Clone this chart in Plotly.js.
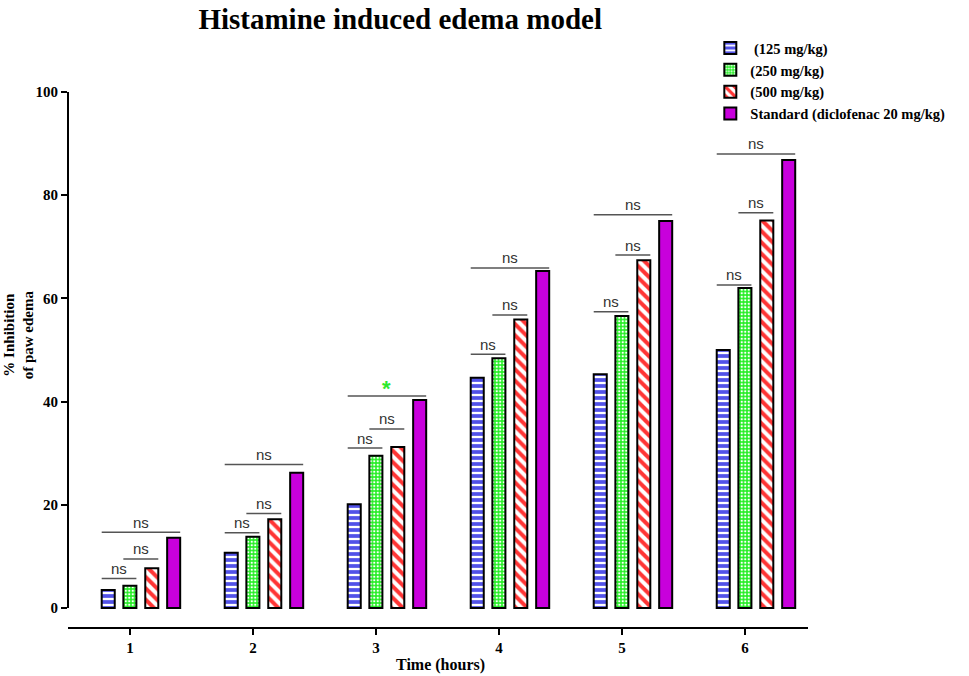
<!DOCTYPE html>
<html>
<head>
<meta charset="utf-8">
<script src="https://cdn.plot.ly/plotly-3.0.1.min.js"></script>
<style>
  html, body { margin: 0; padding: 0; background: #fff; }
  #chart { width: 969px; height: 676px; }
</style>
</head>
<body>
<div id="chart"></div>
<script>
// Values
const hours = [1, 2, 3, 4, 5, 6];
const dose125 = [3.5, 10.7, 20.1, 44.6, 45.3, 50.0];
const dose250 = [4.3, 13.8, 29.5, 48.4, 56.6, 62.0];
const dose500 = [7.7, 17.2, 31.2, 55.9, 67.4, 75.1];
const standard = [13.6, 26.2, 40.3, 65.3, 75.0, 86.8];

// significance brackets (height in % and label)
const bracket12 = [5.7, 14.6, 31.0, 49.2, 57.4, 62.6];
const bracket23 = [9.5, 18.3, 34.7, 56.8, 68.4, 76.6];
const bracket14 = [14.7, 27.8, 41.1, 65.9, 76.2, 88.0];
const sig12 = ['ns', 'ns', 'ns', 'ns', 'ns', 'ns'];
const sig23 = ['ns', 'ns', 'ns', 'ns', 'ns', 'ns'];
const sig14 = ['ns', 'ns', '*', 'ns', 'ns', 'ns'];

const seriesNames = [' (125 mg/kg)', '(250 mg/kg)', '(500 mg/kg)', 'Standard (diclofenac 20 mg/kg)'];

// bar geometry (in x units, one hour = one unit)
const barWidth = 0.106;
const offsets = [-0.230, -0.054, 0.124, 0.302];

const serif = 'Liberation Serif, Times New Roman, serif';
const sans = 'Liberation Sans, Arial, sans-serif';

const patterns = [
  { shape: '-', bgcolor: '#5252e8', fgcolor: '#ffffff', size: 6, solidity: 0.38 },
  { shape: '.', bgcolor: '#25ee25', fgcolor: '#ffffff', size: 3.5, solidity: 0.35 },
  { shape: '\\', bgcolor: '#ffffff', fgcolor: '#ff3535', size: 8, solidity: 0.5 },
  null
];
const allValues = [dose125, dose250, dose500, standard];

const data = allValues.map((vals, i) => {
  const marker = { color: '#c800dc', line: { color: '#000', width: 2 } };
  if (patterns[i]) {
    marker.color = patterns[i].bgcolor;
    marker.pattern = Object.assign({ fillmode: 'replace' }, patterns[i]);
  }
  return {
    type: 'bar',
    x: hours,
    y: vals,
    name: seriesNames[i],
    width: barWidth,
    offset: offsets[i],
    marker: marker,
    hoverinfo: 'y'
  };
});

const shapes = [
  // y axis line only spans 0..100
  { type: 'line', xref: 'paper', yref: 'y', x0: 0, x1: 0, y0: 0, y1: 100,
    line: { color: '#000', width: 2 } }
];
const annotations = [];

function addBracket(h, a, b, height, label) {
  const x0 = h + offsets[a];
  const x1 = h + offsets[b] + barWidth;
  shapes.push({ type: 'line', xref: 'x', yref: 'y', x0: x0, x1: x1, y0: height, y1: height,
    line: { color: '#555', width: 1.5 } });
  const star = label === '*';
  annotations.push({
    x: (x0 + x1) / 2, y: height, xref: 'x', yref: 'y',
    text: label, showarrow: false, yanchor: 'middle',
    yshift: star ? 7 : 10,
    font: star ? { family: sans, size: 22, color: '#2de82d', weight: 'bold' }
               : { family: sans, size: 15, color: '#333' }
  });
}

hours.forEach((h, k) => {
  addBracket(h, 0, 1, bracket12[k], sig12[k]);
  addBracket(h, 1, 2, bracket23[k], sig23[k]);
  addBracket(h, 0, 3, bracket14[k], sig14[k]);
});

// axis titles
annotations.push({
  xref: 'paper', yref: 'paper', x: -0.067, y: 0.546,
  text: '% Inhibition<br>of paw edema', textangle: -90, showarrow: false,
  xanchor: 'center', yanchor: 'middle',
  font: { family: serif, size: 15, color: '#000', weight: 'bold' }
});
annotations.push({
  xref: 'paper', yref: 'paper', x: 0.503, y: -0.071,
  text: 'Time (hours)', showarrow: false, xanchor: 'center', yanchor: 'middle',
  font: { family: serif, size: 16, color: '#000', weight: 'bold' }
});

const layout = {
  width: 969,
  height: 676,
  paper_bgcolor: '#fff',
  plot_bgcolor: '#fff',
  margin: { l: 68, r: 161, t: 92, b: 49 },
  barmode: 'overlay',
  title: {
    text: 'Histamine induced edema model',
    xref: 'container', x: 0.413, xanchor: 'center',
    yref: 'container', y: 0.972, yanchor: 'middle',
    font: { family: serif, size: 29, color: '#000', weight: 'bold' }
  },
  showlegend: true,
  legend: {
    x: 0.868, y: 1.112, xanchor: 'left', yanchor: 'top',
    bgcolor: 'rgba(0,0,0,0)',
    traceorder: 'normal',
    font: { family: serif, size: 14.5, color: '#000', weight: 'bold' }
  },
  xaxis: {
    range: [0.496, 6.512],
    tickvals: hours,
    ticktext: hours.map(String),
    showgrid: false, zeroline: false,
    showline: true, linecolor: '#000', linewidth: 2,
    ticks: 'outside', ticklen: 6, tickwidth: 2, tickcolor: '#000',
    tickfont: { family: serif, size: 15, color: '#000', weight: 'bold' }
  },
  yaxis: {
    range: [-3.68, 100],
    tickvals: [0, 20, 40, 60, 80, 100],
    showgrid: false, zeroline: false, showline: false,
    ticks: 'outside', ticklen: 6, tickwidth: 2, tickcolor: '#000',
    tickfont: { family: serif, size: 15, color: '#000', weight: 'bold' }
  },
  shapes: shapes,
  annotations: annotations
};

Plotly.newPlot('chart', data, layout, { displayModeBar: false, responsive: false });
</script>
</body>
</html>
